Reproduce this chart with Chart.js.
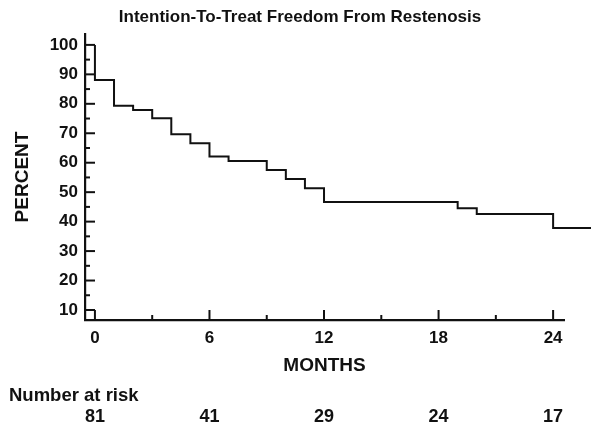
<!DOCTYPE html>
<html><head><meta charset="utf-8">
<script src="https://cdn.jsdelivr.net/npm/chart.js@4.4.1/dist/chart.umd.min.js"></script>
<style>html,body{margin:0;padding:0;background:#fff;}</style>
</head><body>
<canvas id="c" width="591" height="429"></canvas>
<script>
// Kaplan-Meier step points (month, percent)
const months  = [0, 0, 1, 2, 3, 4, 5, 6, 7, 9, 10, 11, 12, 19, 20, 24, 26];
const percent = [100, 88.1, 79.3, 77.9, 75.1, 69.7, 66.6, 62.1, 60.6, 57.5, 54.5, 51.3, 46.7, 44.5, 42.6, 37.8, 37.8];
const xTickLabels = [0, 6, 12, 18, 24];
const xMinorTicks = [3, 9, 15, 21];
const yTickLabels = [10, 20, 30, 40, 50, 60, 70, 80, 90, 100];
const yMinorTicks = [15, 25, 35, 45, 55, 65, 75, 85, 95];
const riskMonths = [0, 6, 12, 18, 24];
const riskCounts = [81, 41, 29, 24, 17];

const FONT = '"Liberation Sans", Arial, Helvetica, sans-serif';
const INK = '#111';

const innerTicks = {
  id: 'innerTicks',
  afterDraw(chart) {
    const ctx = chart.ctx, xs = chart.scales.x, ys = chart.scales.y, a = chart.chartArea;
    ctx.save();
    ctx.strokeStyle = INK;
    ctx.lineWidth = 2;
    ctx.lineCap = 'butt';
    const seg = (x1, y1, x2, y2) => { ctx.beginPath(); ctx.moveTo(x1, y1); ctx.lineTo(x2, y2); ctx.stroke(); };
    xTickLabels.forEach(v => { const p = xs.getPixelForValue(v); seg(p, a.bottom, p, a.bottom - 10); });
    xMinorTicks.forEach(v => { const p = xs.getPixelForValue(v); seg(p, a.bottom, p, a.bottom - 5); });
    yTickLabels.forEach(v => { const p = ys.getPixelForValue(v); seg(a.left, p, a.left + 10, p); });
    yMinorTicks.forEach(v => { const p = ys.getPixelForValue(v); seg(a.left, p, a.left + 5, p); });
    // Number at risk table
    ctx.fillStyle = INK;
    ctx.font = 'bold 18.5px ' + FONT;
    ctx.textAlign = 'left';
    ctx.textBaseline = 'middle';
    ctx.fillText('Number at risk', 9, 396);
    ctx.font = 'bold 18px ' + FONT;
    ctx.textAlign = 'center';
    riskCounts.forEach((n, i) => ctx.fillText(String(n), xs.getPixelForValue(riskMonths[i]), 417));
    ctx.restore();
  }
};

new Chart(document.getElementById('c'), {
  type: 'line',
  data: {
    datasets: [{
      data: months.map((m, i) => ({ x: m, y: percent[i] })),
      stepped: 'before',
      borderColor: INK,
      borderWidth: 2,
      pointRadius: 0,
      fill: false,
      clip: false
    }]
  },
  options: {
    responsive: false,
    animation: false,
    devicePixelRatio: 1,
    layout: { padding: { left: 9, right: 0, top: 0, bottom: 0 } },
    plugins: {
      legend: { display: false },
      tooltip: { enabled: false },
      title: {
        display: true,
        text: 'Intention-To-Treat Freedom From Restenosis',
        color: INK,
        font: { family: FONT, size: 17, weight: 'bold', lineHeight: 1.2 },
        padding: { top: 7.5, bottom: 6.1 }
      }
    },
    scales: {
      x: {
        type: 'linear',
        min: -0.52,
        max: 24.57,
        afterBuildTicks: s => { s.ticks = xTickLabels.map(v => ({ value: v })); },
        afterFit: s => { s.height = 109; },
        grid: { display: false, drawTicks: false },
        border: { display: true, color: INK, width: 2.2 },
        ticks: { color: INK, padding: 9.5, maxRotation: 0, autoSkip: false,
                 font: { family: FONT, size: 17, weight: 'bold', lineHeight: 1 } },
        title: { display: true, text: 'MONTHS', color: INK,
                 font: { family: FONT, size: 19, weight: 'bold', lineHeight: 1 },
                 padding: { top: 0, bottom: 54 } }
      },
      y: {
        type: 'linear',
        min: 6.6,
        max: 103.7,
        afterBuildTicks: s => { s.ticks = yTickLabels.map(v => ({ value: v })); },
        afterFit: s => { s.width = 76; },
        grid: { display: false, drawTicks: false },
        border: { display: true, color: INK, width: 2.2 },
        ticks: { color: INK, padding: 7, autoSkip: false,
                 font: { family: FONT, size: 17, weight: 'bold', lineHeight: 1 } },
        title: { display: true, text: 'PERCENT', color: INK,
                 font: { family: FONT, size: 19, weight: 'bold', lineHeight: 1 },
                 padding: { top: 4.5, bottom: 0 } }
      },
      yRight: {
        type: 'linear',
        position: 'right',
        display: true,
        min: 0,
        max: 1,
        afterBuildTicks: s => { s.ticks = []; },
        afterFit: s => { s.width = 27; },
        grid: { display: false, drawTicks: false },
        border: { display: false },
        ticks: { display: false }
      }
    }
  },
  plugins: [innerTicks]
});
</script>
</body></html>
